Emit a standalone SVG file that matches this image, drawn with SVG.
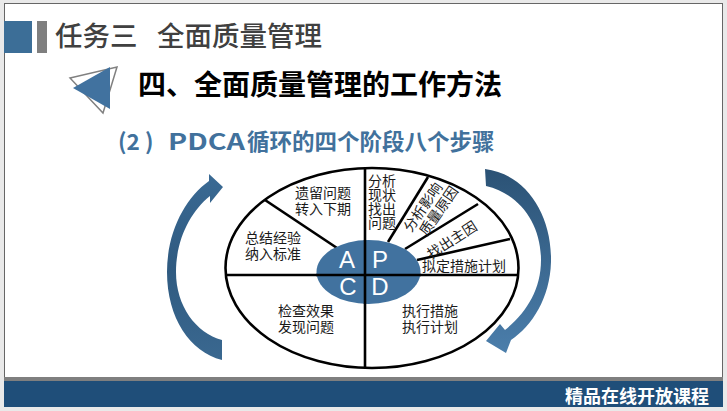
<svg xmlns="http://www.w3.org/2000/svg" width="727" height="411" viewBox="0 0 727 411">
<style>
.cjk{font-family:"Noto Sans CJK SC","Noto Sans",sans-serif;}
.lbl{font-family:"Noto Sans CJK SC","Noto Sans",sans-serif;font-size:14px;fill:#1a1a1a;}
.ln{stroke:#000;stroke-width:2.6;fill:none;stroke-linecap:butt;}
.big{font-family:"Liberation Sans","Noto Sans",sans-serif;font-size:24px;fill:#fff;text-anchor:middle;}
</style>
<defs>
<linearGradient id="gR" x1="0" y1="0" x2="0" y2="1">
<stop offset="0" stop-color="#2b5275"/>
<stop offset="1" stop-color="#4b7eab"/>
</linearGradient>
<linearGradient id="gL" x1="0" y1="0" x2="0" y2="1">
<stop offset="0" stop-color="#3a6a94"/>
<stop offset="0.5" stop-color="#2f5a80"/>
<stop offset="1" stop-color="#3a6890"/>
</linearGradient>
</defs>
<rect x="0" y="0" width="727" height="411" fill="#e9e9e9"/>
<rect x="4.5" y="3.5" width="718" height="403" fill="#ffffff" stroke="#666" stroke-width="1"/>

<g id="header">
<rect x="4" y="21" width="28" height="32" fill="#3c6e97"/>
<rect x="37" y="21" width="10" height="32" fill="#7f7f7f"/>
<text class="cjk" x="55" y="46" font-size="27.5" font-weight="500" fill="#404040">任务三</text>
<text class="cjk" x="157" y="46" font-size="27.5" font-weight="500" fill="#404040">全面质量管理</text>
</g>

<g id="heading">
<polygon points="70,78 117,67 103,113" fill="none" stroke="#808080" stroke-width="1.5"/>
<polygon points="73,88 110,67 110,109" fill="#41729f"/>
<text class="cjk" x="138" y="95" font-size="28" font-weight="700" fill="#000">四、全面质量管理的工作方法</text>
</g>

<g id="subheading">
<text class="cjk" y="150" font-size="22.5" font-weight="700" fill="#41719c"><tspan x="118">(2 )</tspan><tspan x="168" textLength="77" lengthAdjust="spacingAndGlyphs">PDCA</tspan><tspan x="247">循环的四个阶段八个步骤</tspan></text>
</g>

<g id="arrow-left">
<path d="M 222,360 C 190,352 167,318 167,272 C 167,232 185,198 209,181 L 209,174 L 223,187 L 210,203 L 210,196 C 190,212 176,240 176,272 C 176,306 196,333 222,340 Z" fill="url(#gL)"/>
</g>
<g id="arrow-right">
<path d="M 485,169 C 525,174 552,213 551,262 C 550,298 532,326 511,340 L 506,353 L 486,341 L 500,324 L 505,330 C 526,313 541,290 541,260 C 541,224 520,194 486,186 Z" fill="url(#gR)"/>
</g>

<g id="cycle">
<ellipse cx="372" cy="268" rx="146.5" ry="100" fill="#fff" stroke="#000" stroke-width="2.6"/>
<g id="connectors">
<line class="ln" x1="365" y1="168" x2="365" y2="368"/>
<line class="ln" x1="226" y1="275" x2="518" y2="275"/>
<line class="ln" x1="265" y1="200" x2="337" y2="248"/>
<line class="ln" x1="388" y1="242" x2="428" y2="177"/>
<line class="ln" x1="405" y1="249" x2="478" y2="204"/>
<line class="ln" x1="417" y1="260" x2="510" y2="239"/>
</g>
<g id="center">
<ellipse cx="368.5" cy="272" rx="52" ry="32" fill="#41729f"/>
<line class="ln" x1="365" y1="240" x2="365" y2="304"/>
<line class="ln" x1="316" y1="275" x2="421" y2="275"/>
<text class="big" x="347" y="268">A</text>
<text class="big" x="380" y="268">P</text>
<text class="big" x="348" y="295">C</text>
<text class="big" x="380" y="295">D</text>
</g>
<g id="step-A2"><text class="lbl"><tspan x="295" y="198">遗留问题</tspan><tspan x="295" y="214">转入下期</tspan></text></g>
<g id="step-A1"><text class="lbl"><tspan x="245" y="243">总结经验</tspan><tspan x="245" y="259">纳入标准</tspan></text></g>
<g id="step-C"><text class="lbl"><tspan x="278" y="316">检查效果</tspan><tspan x="278" y="332">发现问题</tspan></text></g>
<g id="step-D"><text class="lbl"><tspan x="402" y="316">执行措施</tspan><tspan x="402" y="332">执行计划</tspan></text></g>
<g id="step-P1"><text class="lbl" font-size="12.5"><tspan x="368" y="186">分析</tspan><tspan x="368" y="200">现状</tspan><tspan x="368" y="214">找出</tspan><tspan x="368" y="228">问题</tspan></text></g>
<g id="step-P2" transform="translate(411,233) rotate(-55)"><text class="lbl"><tspan x="0" y="0">分析影响</tspan><tspan x="6" y="15">质量原因</tspan></text></g>
<g id="step-P3" transform="translate(452,240) rotate(-33)"><text class="lbl" text-anchor="middle" x="0" y="5">找出主因</text></g>
<g id="step-P4"><text class="lbl" x="422" y="271">拟定措施计划</text></g>
</g>

<g id="footer">
<rect x="4" y="377" width="719" height="4" fill="#7f7f7f"/>
<rect x="4" y="381" width="719" height="26" fill="#1f4e79"/>
<text class="cjk" x="565" y="403" font-size="18" font-weight="700" fill="#fff">精品在线开放课程</text>
</g>
</svg>
